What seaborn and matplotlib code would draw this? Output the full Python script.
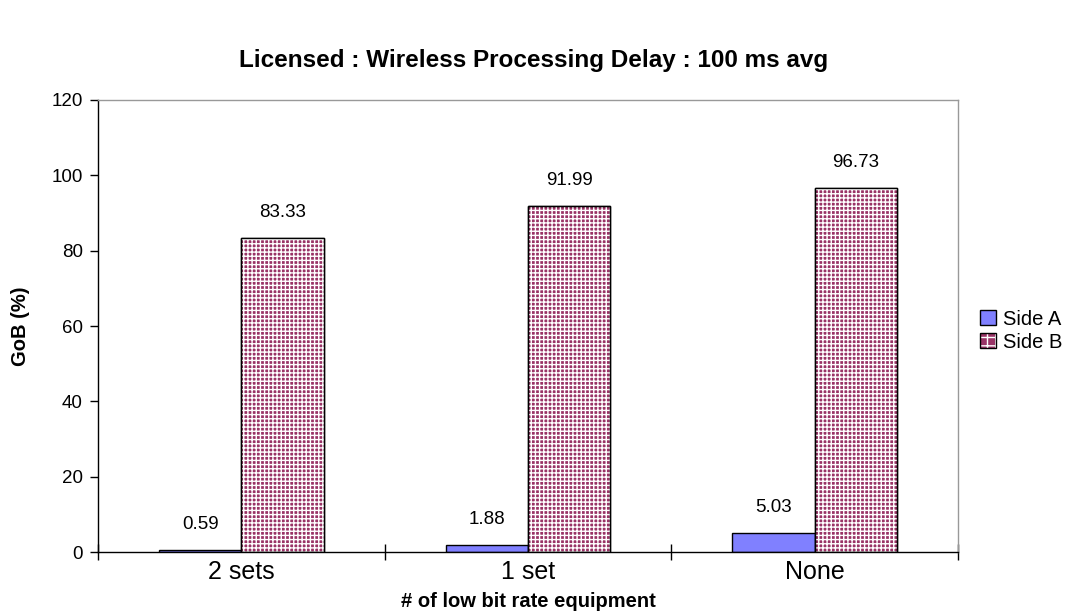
import pandas as pd
import numpy as np
import seaborn as sns
import matplotlib.pyplot as plt
from matplotlib.patches import Rectangle
from matplotlib.legend_handler import HandlerTuple

categories = ['2 sets', '1 set', 'None']
side_a = [0.59, 1.88, 5.03]
side_b = [83.33, 91.99, 96.73]
series_names = ['Side A', 'Side B']
y_ticks = [0, 20, 40, 60, 80, 100, 120]

colors = {'Side A': '#8080FF', 'Side B': '#993366'}

df = pd.DataFrame({
    'equipment': categories * 2,
    'gob': side_a + side_b,
    'side': [series_names[0]] * 3 + [series_names[1]] * 3,
})

sns.set_style('white')
plt.rcParams['font.family'] = ['Liberation Sans', 'DejaVu Sans']
plt.rcParams['hatch.linewidth'] = 1.0
for k in ['text.color', 'axes.labelcolor', 'xtick.color', 'ytick.color']:
    plt.rcParams[k] = 'black'

fig = plt.figure(figsize=(10.68, 6.15), dpi=100)
ax = fig.add_axes([0.0918, 0.1024, 0.8052, 0.7350])

sns.barplot(data=df, x='equipment', y='gob', hue='side', palette=colors,
            order=categories, hue_order=series_names, width=0.575,
            edgecolor='black', linewidth=1.0, saturation=1, ax=ax, legend=False)


def white_grid(xy, w, h, z):
    # white grid hatch over the purple fill, then a black outline
    hp = Rectangle(xy, w, h, facecolor='none', edgecolor='white', hatch='++++',
                   linewidth=0, zorder=z + 0.05)
    if hasattr(hp, 'set_hatchcolor'):
        hp.set_hatchcolor('white')
    outline = Rectangle(xy, w, h, fill=False, edgecolor='black', linewidth=1.0, zorder=z + 0.1)
    return hp, outline


for p in ax.containers[1]:
    hp, outline = white_grid(p.get_xy(), p.get_width(), p.get_height(), p.get_zorder())
    ax.add_patch(hp)
    ax.add_patch(outline)

for cont in ax.containers:
    ax.bar_label(cont, fmt='%.2f', padding=12, fontsize=13.5)

ax.set_xlim(-0.5, 2.5)
ax.set_ylim(0, 120)
ax.set_yticks(y_ticks)
ax.tick_params(axis='y', direction='out', length=6, width=1, labelsize=13.5, left=True, pad=5)

ax.set_xticks([-0.5, 0.5, 1.5, 2.5])
ax.set_xticklabels([])
ax.set_xticks([0, 1, 2], minor=True)
ax.set_xticklabels(categories, minor=True, fontsize=18)
ax.tick_params(axis='x', which='major', direction='inout', length=12, width=1, bottom=True)
ax.tick_params(axis='x', which='minor', length=0, pad=6)

for s in ['left', 'bottom']:
    ax.spines[s].set_color('black')
    ax.spines[s].set_linewidth(1.0)
for s in ['top', 'right']:
    ax.spines[s].set_color('#999999')
    ax.spines[s].set_linewidth(1.0)

ax.set_xlabel('# of low bit rate equipment', fontsize=14.5, fontweight='bold')
ax.xaxis.set_label_coords(0.5, -0.088)
ax.set_ylabel('GoB (%)', fontsize=14.5, fontweight='bold')
ax.yaxis.set_label_coords(-0.079, 0.5)

fig.text(0.5, 0.902, 'Licensed : Wireless Processing Delay : 100 ms avg',
         fontsize=17.5, fontweight='bold', ha='center', va='center')

h_a = Rectangle((0, 0), 1, 1, facecolor=colors['Side A'], edgecolor='black', linewidth=1.0)
h_b_fill = Rectangle((0, 0), 1, 1, facecolor=colors['Side B'], edgecolor='none', linewidth=0)
h_b_hatch, h_b_edge = white_grid((0, 0), 1, 1, 0)
h_b_hatch.set_hatch('++')
fig.legend([h_a, (h_b_fill, h_b_hatch, h_b_edge)], series_names,
           handler_map={tuple: HandlerTuple(ndivide=1, pad=0)},
           loc='center left', bbox_to_anchor=(0.918, 0.462),
           frameon=False, fontsize=14.5, handlelength=0.75, handleheight=0.75,
           handletextpad=0.35, labelspacing=0.2, borderpad=0, borderaxespad=0)

fig.savefig('out.png', dpi=100)
